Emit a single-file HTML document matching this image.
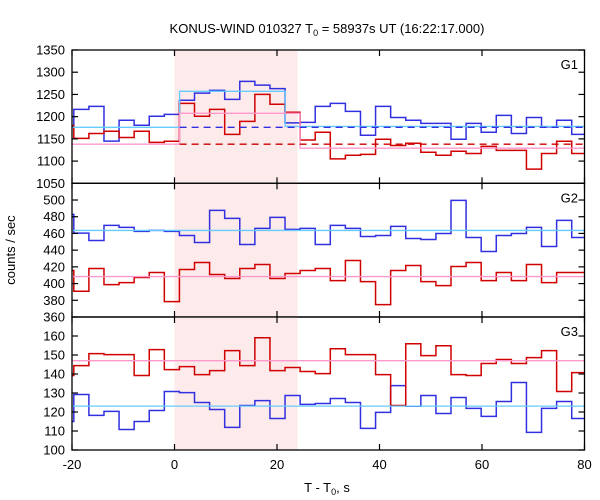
<!DOCTYPE html>
<html><head><meta charset="utf-8"><style>
html,body{margin:0;padding:0;background:#fff;}
svg{display:block;font-family:"Liberation Sans",sans-serif;}
</style></head><body>
<svg id="chart" width="600" height="500" viewBox="0 0 600 500">
<rect x="0" y="0" width="600" height="500" fill="#fff"/>
<text x="327" y="33" text-anchor="middle" font-size="13">KONUS-WIND 010327 T<tspan font-size="9" dy="3">0</tspan><tspan dy="-3"> = 58937s UT (16:22:17.000)</tspan></text>
<text transform="translate(15,250) rotate(-90)" text-anchor="middle" font-size="13">counts / sec</text>
<text x="327" y="492" text-anchor="middle" font-size="13">T - T<tspan font-size="9" dy="3">0</tspan><tspan dy="-3">, s</tspan></text>
<g id="layer"></g>
</svg>
<script>
const tStart = -22.592, binW = 2.944;
const xTicks = [-20, 0, 20, 40, 60, 80];
const shadeRange = [0, 24];
const g1Blue = [1177.5,1216.5,1223,1145,1192,1180.5,1201,1205,1237,1253,1259,1239,1279.5,1271,1263,1186,1187,1223,1230,1212,1158,1223,1198,1192,1185,1185,1149,1185,1165,1203,1162,1198,1177,1192,1160];
const g1Red = [1180,1151,1162,1167,1153,1167,1142,1144.5,1230,1201,1216.5,1160,1189.5,1250,1228,1210,1147.5,1165,1105,1113,1115,1149,1135,1140,1120,1113,1122,1117,1133,1124,1124,1082,1117,1144.5,1117];
const g2Blue = [482.8,460.4,451.6,469.6,467.2,462.4,463.6,462.4,457.6,449.2,487.6,478,446.8,466,479.2,464.8,466,446.8,469.6,466,456.4,457.6,468.4,454,452.8,460,499.6,455.2,438.4,457.6,460,467.2,444.4,475.6,455.2];
const g2Red = [415.6,390.8,418,398.8,401.2,407.2,413.2,378.4,416.8,425.2,410.8,406,418,422.8,406,412,415.6,418,403.6,427.6,402.4,374.8,415.6,421.6,402.4,397.6,420.4,425.2,403.6,413.2,403.6,422.8,401.2,413.2,413.2];
const g3Blue = [115,129.2,118.2,120.3,110.8,115,120.8,130.8,130.2,125,121.3,111.9,123.4,126,116.6,128.7,124,124.5,127.1,125,111.4,119.8,133.9,123,128.7,119.2,127.6,121.9,117.7,125.5,135.5,109.3,121.9,125.5,116.6];
const g3Red = [139.2,144.4,150.7,150.2,150.2,139.2,152.8,142.3,143.9,139.7,141.8,152.3,144.4,159.1,141.8,143.4,141.3,140.2,153.3,150.2,150.2,139.7,123.4,155.9,149.7,154.9,139.7,139.2,145.5,147.6,145.5,148.6,152.3,130.8,140.7];
const g1CyanFit = [[-20,1.0,1176],[1.0,21.6,1257],[21.6,80,1178]];
const g1PinkFit = [[-20,1.0,1138],[1.0,24.5,1207.5],[24.5,80,1129]];
const g1BlueDash = [[1.0,80,1176]];
const g1RedDash = [[1.0,80,1138]];
const g2CyanFit = [[-20,80,463.6]];
const g2PinkFit = [[-20,80,408.4]];
const g3CyanFit = [[-20,80,123.1]];
const g3PinkFit = [[-20,80,147]];
const g1Ticks = [1050,1100,1150,1200,1250,1300,1350];
const g2Ticks = [360,380,400,420,440,460,480,500];
const g3Ticks = [100,110,120,130,140,150,160];

const NS = "http://www.w3.org/2000/svg";
const layer = document.getElementById('layer');
const X0 = 72, X1 = 584.5, T0 = -20, T1 = 80;
function xs(t){ return X0 + (t - T0) * (X1 - X0) / (T1 - T0); }
function mk(tag, attrs, parent){ const e = document.createElementNS(NS, tag); for (const k in attrs) e.setAttribute(k, attrs[k]); (parent||layer).appendChild(e); return e; }

const defs = mk('defs', {});
const panels = [
 {name:'g1', top:50, bot:183.3, min:1050, max:1350, ticks:g1Ticks, label:'G1',
  series:[[g1Blue,'#3030e0'],[g1Red,'#d00000']],
  fits:[[g1CyanFit,'#66ccff',''],[g1PinkFit,'#ff99cc',''],[g1BlueDash,'#3030e0','7,5'],[g1RedDash,'#d00000','7,5']]},
 {name:'g2', top:183.3, bot:317, min:360, max:520, ticks:g2Ticks, label:'G2',
  series:[[g2Blue,'#3030e0'],[g2Red,'#d00000']],
  fits:[[g2CyanFit,'#66ccff',''],[g2PinkFit,'#ff99cc','']]},
 {name:'g3', top:317, bot:450, min:100, max:170, ticks:g3Ticks, label:'G3',
  series:[[g3Blue,'#3030e0'],[g3Red,'#d00000']],
  fits:[[g3CyanFit,'#66ccff',''],[g3PinkFit,'#ff99cc','']]}
];

panels.forEach((p, pi) => {
  const ys = v => p.bot - (v - p.min) * (p.bot - p.top) / (p.max - p.min);
  const g = mk('g', {});
  
  
  const cp = mk('clipPath', {id:'clip'+pi}, defs);
  mk('rect', {x:X0, y:p.top, width:X1-X0, height:p.bot-p.top}, cp);
  const sh = mk('rect', {x:xs(shadeRange[0]), y:p.top, width:xs(shadeRange[1])-xs(shadeRange[0]), height:p.bot-p.top, fill:'#fdeaea'}, g);
  
  
  const cg = mk('g', {'clip-path':'url(#clip'+pi+')'}, g);
  p.series.forEach(([vals, col], si) => {
    let d = '';
    vals.forEach((v, i) => {
      const a = xs(tStart + i*binW), b = xs(tStart + (i+1)*binW), y = ys(v);
      d += (i === 0 ? 'M' : 'L') + a.toFixed(2) + ',' + y.toFixed(2) + 'L' + b.toFixed(2) + ',' + y.toFixed(2);
    });
    const path = mk('path', {d:d, fill:'none', stroke:col, 'stroke-width':1.5}, cg);
    
    
  });
  p.fits.forEach(([segs, col, dash], fi) => {
    let d = '';
    segs.forEach((s, i) => {
      const y = ys(s[2]);
      d += (i === 0 || dash ? 'M' : 'L') + xs(s[0]).toFixed(2) + ',' + y.toFixed(2) + 'L' + xs(s[1]).toFixed(2) + ',' + y.toFixed(2);
    });
    const attrs = {d:d, fill:'none', stroke:col, 'stroke-width':1.3};
    if (dash) attrs['stroke-dasharray'] = dash;
    const path = mk('path', attrs, cg);
    
    
  });
  // frame
  const fr = mk('rect', {x:X0, y:p.top, width:X1-X0, height:p.bot-p.top, fill:'none', stroke:'#000', 'stroke-width':1.3}, g);
  
  
  xTicks.forEach(t => {
    mk('line', {x1:xs(t), x2:xs(t), y1:p.bot, y2:p.bot-6, stroke:'#000', 'stroke-width':1.2}, g);
    mk('line', {x1:xs(t), x2:xs(t), y1:p.top, y2:p.top+6, stroke:'#000', 'stroke-width':1.2}, g);
  });
  p.ticks.forEach(v => {
    const y = ys(v);
    mk('line', {x1:X0, x2:X0+6, y1:y, y2:y, stroke:'#000', 'stroke-width':1.2}, g);
    mk('line', {x1:X1, x2:X1-6, y1:y, y2:y, stroke:'#000', 'stroke-width':1.2}, g);
    const tl = mk('text', {x:X0-7, y:y+4.5, 'text-anchor':'end', 'font-size':13}, g);
    tl.textContent = v;
    
    
  });
  const lab = mk('text', {x:578, y:p.top+19, 'text-anchor':'end', 'font-size':13}, g);
  lab.textContent = p.label;
  
  
});
xTicks.forEach(t => {
  const tl = mk('text', {x:xs(t), y:469, 'text-anchor':'middle', 'font-size':13});
  tl.textContent = t;
  
  
});
</script>
</body></html>
